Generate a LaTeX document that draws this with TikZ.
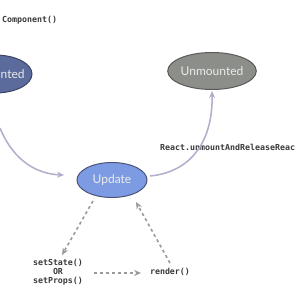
\documentclass[tikz,border=0pt]{standalone}
\usepackage{fontspec}
\setmainfont{Lato}
\setmonofont{DejaVu Sans Mono}
\usetikzlibrary{shapes.geometric,arrows.meta}
\definecolor{mountfill}{HTML}{5B6B9C}
\definecolor{mountdraw}{HTML}{3C4566}
\definecolor{updfill}{HTML}{7D9BE3}
\definecolor{upddraw}{HTML}{4A5478}
\definecolor{unfill}{HTML}{8C8E8A}
\definecolor{undraw}{HTML}{5A5A5A}
\definecolor{curvecol}{HTML}{B3ACCC}
\definecolor{dashcol}{HTML}{9A9A9A}
\definecolor{codecol}{HTML}{3A3A3A}
\tikzset{
  state/.style={ellipse, inner sep=0pt, line width=1pt, text=white!92!black, font=\fontsize{12}{14}\selectfont},
  statetext/.style={inner sep=0pt, text=white!92!black, font=\fontsize{12}{14}\selectfont},
  code/.style={font=\ttfamily\bfseries\fontsize{8.3}{9}\selectfont, text=codecol, inner sep=1pt, align=center},
  lifecurve/.style={draw=curvecol, line width=1.5pt, -{Stealth[length=7pt,width=6pt]}},
  dasharrow/.style={draw=dashcol, line width=1.6pt, dash pattern=on 3pt off 3pt, -{Stealth[length=7pt,width=6pt]}}
}
\begin{document}
\begin{tikzpicture}[x=1pt,y=-1pt]
\useasboundingbox (0,0) rectangle (300,300);
\fill[white] (0,0) rectangle (300,300);
% states
\node[state, fill=mountfill, draw=mountdraw, minimum width=74pt, minimum height=38pt] (mnt) at (-5,74) {};
\node[statetext, anchor=west] (mntt) at (0.5,74) {nted};
\node[state, fill=unfill, draw=undraw, minimum width=88pt, minimum height=37pt] (unm) at (212,71) {Unmounted};
\node[state, fill=updfill, draw=upddraw, minimum width=70pt, minimum height=35pt] (upd) at (112,180) {Update};
% texts
\node[code, anchor=west] (rc) at (1,20) {Component()};
\node[code, anchor=west] (ur) at (159,147) {React.unmountAndReleaseReac};
\node[code] (ss) at (58,272) {setState()\\OR\\setProps()};
\node[code] (rnd) at (170,272) {render()};
% helper coordinates
\coordinate (c1s) at (0,128);
\coordinate (c1e) at (64,175);
\coordinate (c2s) at (150,176);
\coordinate (c2e) at (212,91);
\coordinate (d1s) at (93,201);
\coordinate (d1e) at (62,255);
\coordinate (d2s) at (94,273);
\coordinate (d2e) at (141,273);
\coordinate (d3s) at (170,263);
\coordinate (d3e) at (136,202);
% connectors
\draw[lifecurve] (c1s) .. controls (14,162) and (38,174) .. (c1e);
\draw[lifecurve] (c2s) .. controls (192,172) and (213,140) .. (c2e);
\draw[dasharrow] (d1s) -- (d1e);
\draw[dasharrow] (d2s) -- (d2e);
\draw[dasharrow] (d3s) -- (d3e);
\end{tikzpicture}
\end{document}
